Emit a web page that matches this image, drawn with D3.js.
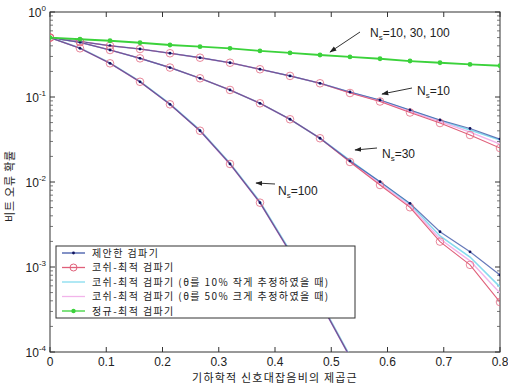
<!DOCTYPE html>
<html>
<head>
<meta charset="utf-8">
<script src="https://cdn.jsdelivr.net/npm/d3@7"></script>
<style>
  html, body { margin: 0; padding: 0; background: #fff; }
  svg { display: block; }
  text { font-family: "Liberation Sans", Arial, sans-serif; fill: #222; }
  .kr { font-family: "Noto Sans CJK KR", "Noto Sans", sans-serif; }
</style>
</head>
<body>
<svg id="chart" width="508" height="387"></svg>
<script>
// x: square root of geometric SNR (16 sample points)
const snr = [0, 0.0533, 0.1067, 0.16, 0.2133, 0.2667, 0.32, 0.3733, 0.4267, 0.48, 0.5333, 0.5867, 0.64, 0.6933, 0.7467, 0.8];

// Ns = 10
const ns10Proposed = [0.5, 0.450, 0.401, 0.367, 0.327, 0.290, 0.253, 0.212, 0.177, 0.145, 0.1145, 0.0922, 0.0703, 0.0536, 0.0426, 0.0320];
const ns10Cauchy   = [0.5, 0.450, 0.401, 0.367, 0.327, 0.290, 0.253, 0.212, 0.177, 0.145, 0.1114, 0.0885, 0.0657, 0.0494, 0.0357, 0.0251];
const ns10Under    = [0.5, 0.450, 0.401, 0.367, 0.327, 0.290, 0.253, 0.212, 0.177, 0.145, 0.1140, 0.0910, 0.0694, 0.0529, 0.0409, 0.0312];
const ns10Over     = [0.5, 0.450, 0.401, 0.367, 0.327, 0.290, 0.253, 0.212, 0.177, 0.145, 0.1130, 0.0897, 0.0675, 0.0515, 0.0387, 0.0280];

// Ns = 30
const ns30Proposed = [0.5, 0.440, 0.357, 0.285, 0.222, 0.166, 0.121, 0.0843, 0.0547, 0.0327, 0.0177, 0.0101, 0.00561, 0.00260, 0.00151, 0.000805];
const ns30Cauchy   = [0.5, 0.440, 0.357, 0.285, 0.222, 0.166, 0.121, 0.0843, 0.0547, 0.0327, 0.0172, 0.00922, 0.00504, 0.00199, 0.00106, 0.000387];
const ns30Under    = [0.5, 0.440, 0.357, 0.285, 0.222, 0.166, 0.121, 0.0843, 0.0547, 0.0327, 0.0180, 0.00996, 0.00550, 0.00232, 0.00131, 0.000582];
const ns30Over     = [0.5, 0.440, 0.357, 0.285, 0.222, 0.166, 0.121, 0.0843, 0.0547, 0.0327, 0.0175, 0.00960, 0.00522, 0.00213, 0.00118, 0.000494];

// Ns = 100 (all Cauchy-type detectors nearly coincide)
const ns100Proposed = [0.5, 0.374, 0.249, 0.151, 0.0820, 0.0401, 0.0163, 0.00571, 0.00150, 0.000387, 0.0000873];
const ns100Cauchy   = [0.5, 0.374, 0.249, 0.151, 0.0820, 0.0401, 0.0163, 0.00571, 0.00150, 0.000390, 0.0000880];
const ns100Under    = [0.5, 0.376, 0.251, 0.153, 0.0830, 0.0408, 0.0166, 0.00585, 0.00155, 0.000400, 0.0000900];
const ns100Over     = [0.5, 0.373, 0.248, 0.150, 0.0815, 0.0398, 0.0161, 0.00565, 0.00148, 0.000383, 0.0000860];

// Gaussian-optimal detector (same for Ns = 10, 30, 100)
const gaussOpt = [0.5, 0.478, 0.459, 0.435, 0.409, 0.391, 0.374, 0.348, 0.330, 0.312, 0.296, 0.282, 0.265, 0.253, 0.242, 0.233];

const xTicks = [0, 0.1, 0.2, 0.3, 0.4, 0.5, 0.6, 0.7, 0.8];
const yExponents = [0, -1, -2, -3, -4];

const legendLabels = [
  "제안한 검파기",
  "코쉬-최적 검파기",
  "코쉬-최적 검파기 (θ를 10% 작게 추정하였을 때)",
  "코쉬-최적 검파기 (θ를 50% 크게 추정하였을 때)",
  "정규-최적 검파기"
];

const colors = {
  proposed: "#4057a8",
  proposedMark: "#10135e",
  cauchy: "#e0607a",
  under: "#86dbef",
  over: "#f2b4ea",
  gauss: "#3bd23b"
};

const svg = d3.select("#chart");
const W = 508, H = 387;
const margin = { top: 12, right: 8, bottom: 35, left: 50 };

const x = d3.scaleLinear().domain([0, 0.8]).range([margin.left, W - margin.right]);
const y = d3.scaleLog().domain([1e-4, 1]).range([H - margin.bottom, margin.top]);

svg.append("defs").append("clipPath").attr("id", "plotClip")
  .append("rect")
  .attr("x", x(0)).attr("y", y(1))
  .attr("width", x(0.8) - x(0)).attr("height", y(1e-4) - y(1));

svg.append("defs").append("marker")
  .attr("id", "arrow")
  .attr("viewBox", "0 0 10 10")
  .attr("refX", 9).attr("refY", 5)
  .attr("markerWidth", 7).attr("markerHeight", 7)
  .attr("orient", "auto")
  .append("path")
  .attr("d", "M0,1.5 L10,5 L0,8.5 Z")
  .attr("fill", "#222");

// -------------------- frame + ticks --------------------
const frame = svg.append("g");
frame.append("rect")
  .attr("x", x(0)).attr("y", y(1))
  .attr("width", x(0.8) - x(0)).attr("height", y(1e-4) - y(1))
  .attr("fill", "none").attr("stroke", "#333").attr("stroke-width", 1);

xTicks.forEach(t => {
  frame.append("line").attr("x1", x(t)).attr("x2", x(t))
    .attr("y1", y(1e-4)).attr("y2", y(1e-4) - 5).attr("stroke", "#333");
  frame.append("line").attr("x1", x(t)).attr("x2", x(t))
    .attr("y1", y(1)).attr("y2", y(1) + 5).attr("stroke", "#333");
  svg.append("text")
    .attr("x", x(t)).attr("y", 366)
    .attr("text-anchor", "middle")
    .attr("font-size", 12)
    .text(t === 0 ? "0" : d3.format(".1f")(t));
});

yExponents.forEach(e => {
  const v = Math.pow(10, e);
  [x(0), x(0.8)].forEach((px, i) => {
    const dir = i === 0 ? 1 : -1;
    frame.append("line").attr("x1", px).attr("x2", px + dir * 5)
      .attr("y1", y(v)).attr("y2", y(v)).attr("stroke", "#333");
    if (e > -4) {
      d3.range(2, 10).forEach(m => {
        const mv = m * v / 10;
        frame.append("line").attr("x1", px).attr("x2", px + dir * 3)
          .attr("y1", y(mv)).attr("y2", y(mv)).attr("stroke", "#555").attr("stroke-width", 0.8);
      });
    }
  });
  const lbl = svg.append("text")
    .attr("x", 46).attr("y", y(v) + 5)
    .attr("text-anchor", "end")
    .attr("font-size", 12);
  lbl.append("tspan").text("10");
  lbl.append("tspan").attr("font-size", 8).attr("dy", -6).text(e);
});

// -------------------- series --------------------
const plot = svg.append("g").attr("clip-path", "url(#plotClip)");
const line = d3.line().x(d => x(d[0])).y(d => y(d[1]));
const pair = arr => arr.map((v, i) => [snr[i], v]);

const groups = [
  [ns10Proposed, ns10Cauchy, ns10Under, ns10Over],
  [ns30Proposed, ns30Cauchy, ns30Under, ns30Over],
  [ns100Proposed, ns100Cauchy, ns100Under, ns100Over]
];

groups.forEach(([prop, cau, und, ovr]) => {
  plot.append("path").datum(pair(und)).attr("d", line)
    .attr("fill", "none").attr("stroke", colors.under).attr("stroke-width", 1.6);
  plot.append("path").datum(pair(ovr)).attr("d", line)
    .attr("fill", "none").attr("stroke", colors.over).attr("stroke-width", 1.4);
  plot.append("path").datum(pair(cau)).attr("d", line)
    .attr("fill", "none").attr("stroke", colors.cauchy).attr("stroke-width", 1.1);
  plot.append("path").datum(pair(prop)).attr("d", line)
    .attr("fill", "none").attr("stroke", colors.proposed).attr("stroke-width", 1.2).attr("stroke-opacity", 0.8);
  plot.selectAll(null).data(pair(cau)).enter().append("circle")
    .attr("cx", d => x(d[0])).attr("cy", d => y(d[1])).attr("r", 3.8)
    .attr("fill", "none").attr("stroke", colors.cauchy).attr("stroke-width", 1).attr("stroke-opacity", 0.75);
  plot.selectAll(null).data(pair(prop)).enter().append("circle")
    .attr("cx", d => x(d[0])).attr("cy", d => y(d[1])).attr("r", 1.4)
    .attr("fill", colors.proposedMark);
});

plot.append("path").datum(pair(gaussOpt)).attr("d", line)
  .attr("fill", "none").attr("stroke", colors.gauss).attr("stroke-width", 1.8);
plot.selectAll(null).data(pair(gaussOpt)).enter().append("circle")
  .attr("cx", d => x(d[0])).attr("cy", d => y(d[1])).attr("r", 2.4)
  .attr("fill", colors.gauss);

// -------------------- annotations --------------------
const notes = [
  { label: "10, 30, 100", tx: 370, ty: 37, from: [360, 32], to: [330, 52] },
  { label: "10", tx: 417, ty: 95, from: [412, 88], to: [382, 94] },
  { label: "30", tx: 382, ty: 158, from: [377, 148], to: [355, 150] },
  { label: "100", tx: 278, ty: 195, from: [275, 184], to: [256, 183] }
];
notes.forEach(n => {
  svg.append("line")
    .attr("x1", n.from[0]).attr("y1", n.from[1])
    .attr("x2", n.to[0]).attr("y2", n.to[1])
    .attr("stroke", "#333").attr("stroke-width", 1)
    .attr("marker-end", "url(#arrow)");
  const t = svg.append("text").attr("x", n.tx).attr("y", n.ty).attr("font-size", 12);
  t.append("tspan").text("N");
  t.append("tspan").attr("font-size", 8).attr("dy", 3).text("s");
  t.append("tspan").attr("dy", -3).text("=" + n.label);
});

// -------------------- legend --------------------
const lg = svg.append("g");
const rowH = 14.5;
lg.append("rect")
  .attr("x", 56).attr("y", 246).attr("width", 299).attr("height", 72)
  .attr("fill", "#fff").attr("stroke", "#333").attr("stroke-width", 1);

const legendStyles = [
  { stroke: colors.proposed, mark: "dot" },
  { stroke: colors.cauchy, mark: "circle" },
  { stroke: colors.under, mark: null },
  { stroke: colors.over, mark: null },
  { stroke: colors.gauss, mark: "star" }
];

legendLabels.forEach((label, i) => {
  const cy = 253 + i * rowH;
  const s = legendStyles[i];
  lg.append("line").attr("x1", 62).attr("x2", 85).attr("y1", cy).attr("y2", cy)
    .attr("stroke", s.stroke).attr("stroke-width", 1.3);
  if (s.mark === "dot") {
    lg.append("circle").attr("cx", 73.5).attr("cy", cy).attr("r", 1.4).attr("fill", colors.proposedMark);
  } else if (s.mark === "circle") {
    lg.append("circle").attr("cx", 73.5).attr("cy", cy).attr("r", 3.5)
      .attr("fill", "none").attr("stroke", colors.cauchy);
  } else if (s.mark === "star") {
    lg.append("circle").attr("cx", 73.5).attr("cy", cy).attr("r", 2.2).attr("fill", colors.gauss);
  }
  lg.append("text").attr("class", "kr")
    .attr("x", 92).attr("y", cy + 3.6)
    .attr("font-size", 10)
    .attr("letter-spacing", 1.4)
    .text(label);
});

// -------------------- axis titles --------------------
svg.append("text").attr("class", "kr")
  .attr("x", 275).attr("y", 382)
  .attr("text-anchor", "middle")
  .attr("font-size", 11)
  .attr("letter-spacing", 1.2)
  .text("기하학적 신호대잡음비의 제곱근");

svg.append("text").attr("class", "kr")
  .attr("transform", "translate(14,186) rotate(-90)")
  .attr("text-anchor", "middle")
  .attr("font-size", 11)
  .attr("letter-spacing", 0.8)
  .text("비트 오류 확률");
</script>
</body>
</html>
